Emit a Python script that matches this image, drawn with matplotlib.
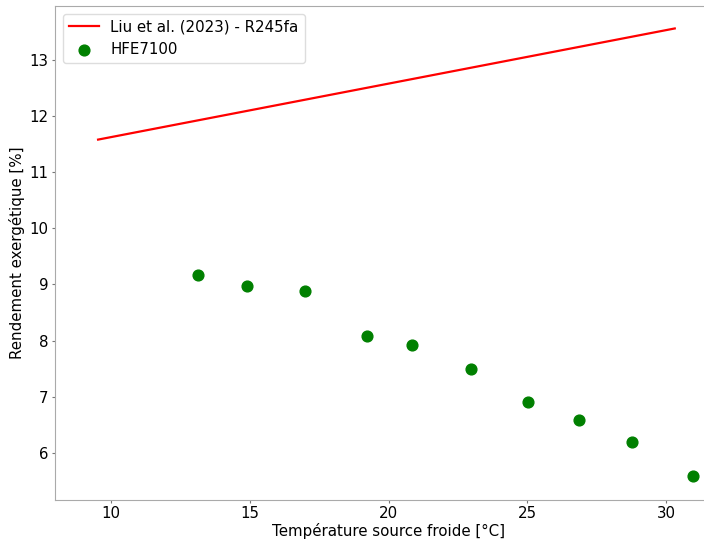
import matplotlib
matplotlib.use("Agg")
import matplotlib.pyplot as plt

# Data
liu_x = [9.55, 30.3]
liu_y = [11.58, 13.56]
hfe_x = [13.13, 14.92, 16.98, 19.22, 20.85, 22.97, 25.02, 26.85, 28.75, 30.95]
hfe_y = [9.17, 8.98, 8.88, 8.09, 7.92, 7.49, 6.91, 6.59, 6.20, 5.58]

plt.rcParams['font.family'] = 'DejaVu Sans'
fs = 10.8
fig = plt.figure(figsize=(7.04, 5.39), dpi=100)
ax = fig.add_axes([55/704, 39/539, (722-55)/704, (500-6)/539])

ax.plot(liu_x, liu_y, color='red', lw=1.6, label='Liu et al. (2023) - R245fa')
ax.scatter(hfe_x, hfe_y, color='green', s=60, label='HFE7100', zorder=3)

ax.set_xlim(8.0, 32.0)
ax.set_ylim(5.16, 13.96)
ax.set_xticks([10, 15, 20, 25, 30])
ax.set_yticks([6, 7, 8, 9, 10, 11, 12, 13])
ax.tick_params(labelsize=fs, color='#777777', length=2.5, pad=2)
for s in ax.spines.values():
    s.set_color('#aaaaaa')
ax.set_xlabel('Température source froide [°C]', fontsize=fs, labelpad=1)
ax.set_ylabel('Rendement exergétique [%]', fontsize=fs, labelpad=3)
ax.legend(loc='upper left', fontsize=fs, framealpha=1, edgecolor='#dddddd')

fig.savefig('out.png', dpi=100)
